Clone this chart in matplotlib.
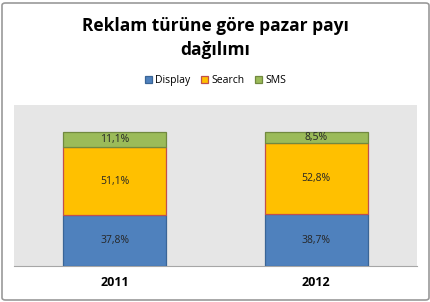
import matplotlib.pyplot as plt
from matplotlib.patches import FancyBboxPatch

years = ["2011", "2012"]
display = [37.8, 38.7]
search = [51.1, 52.8]
sms = [11.1, 8.5]

series = [
    ("Display", display, "#4F81BD", "#3A6596"),
    ("Search", search, "#FFC000", "#C0504D"),
    ("SMS", sms, "#9BBB59", "#71893F"),
]

plt.rcParams["font.family"] = ["Open Sans", "DejaVu Sans"]

fig = plt.figure(figsize=(4.31, 3.02), dpi=100)
ax = fig.add_axes([14 / 431, 36 / 302, 403 / 431, 161 / 302])

x = list(range(len(years)))
bottom = [0.0] * len(years)
for name, vals, color, edge in series:
    bars = ax.bar(x, vals, 0.51, bottom=bottom, color=color, edgecolor=edge,
                  linewidth=0.9, label=name, zorder=3)
    for b, v, bt in zip(bars, vals, bottom):
        ax.text(b.get_x() + b.get_width() / 2, bt + v / 2,
                f"{v:.1f}%".replace(".", ","), ha="center", va="center",
                fontsize=7.5, color="#262626", zorder=4)
    bottom = [bt + v for bt, v in zip(bottom, vals)]

ax.set_xlim(-0.5, len(years) - 0.5)
ax.set_ylim(0, 120)
ax.set_facecolor("#E6E6E6")
ax.set_yticks([])
ax.set_xticks(x)
ax.set_xticklabels(years, fontsize=9, fontweight="bold")
ax.tick_params(axis="x", length=0, pad=7)
for s in ["top", "left", "right"]:
    ax.spines[s].set_visible(False)
ax.spines["bottom"].set_color("#A6A6A6")

fig.text(0.5, 1 - 38 / 302, "Reklam türüne göre pazar payı\ndağılımı",
         ha="center", va="center", fontsize=12.5, fontweight="bold",
         linespacing=1.45)

fig.legend(loc="center", bbox_to_anchor=(0.5, 1 - 81 / 302), ncol=3,
           frameon=False, fontsize=7.5, handlelength=0.7, handleheight=0.7,
           handletextpad=0.3, columnspacing=1.0)

border = FancyBboxPatch((2 / 431, 2 / 302), 427 / 431, 297 / 302,
                        boxstyle="round,pad=0,rounding_size=0.008",
                        transform=fig.transFigure, fill=False,
                        edgecolor="#9A9A9A", linewidth=1.2)
fig.patches.append(border)

fig.savefig("out.png", dpi=100)
